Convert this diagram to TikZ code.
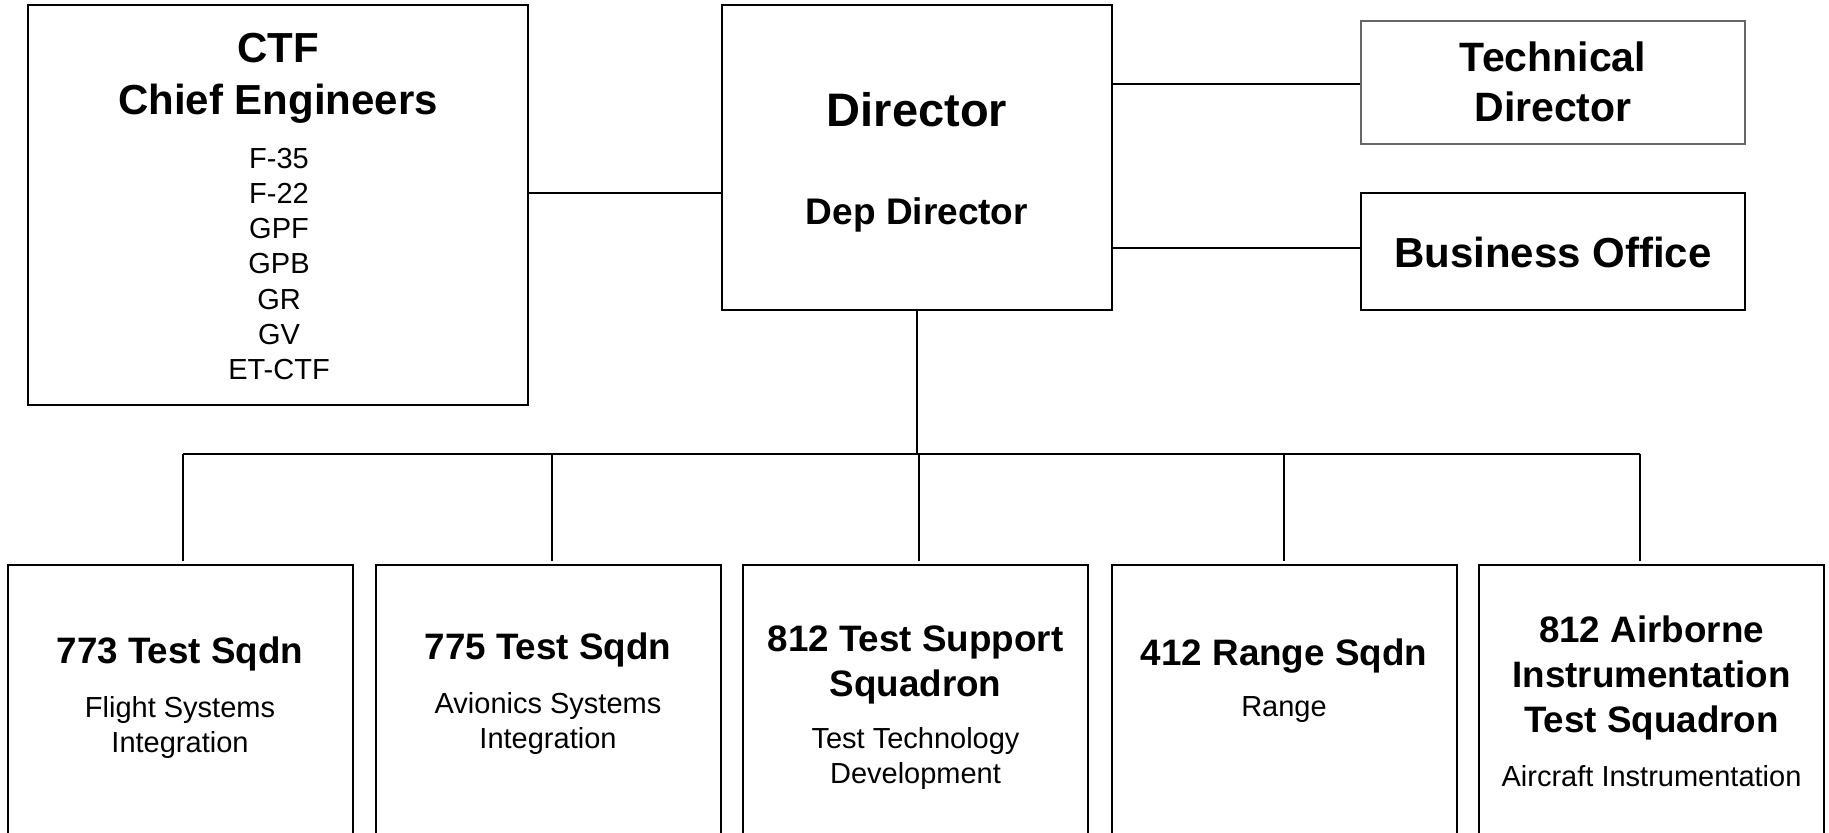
\documentclass[tikz,border=0pt]{standalone}
\usepackage{fontspec}
\setmainfont{Liberation Sans}
\usetikzlibrary{calc}

\tikzset{
	orgbox/.style={draw, line width=1pt, inner sep=0pt},
	link/.style={line width=1pt},
	drop/.style={line width=0.8pt},
	ttl/.style={font=\fontsize{18.4}{22.5}\selectfont\bfseries, align=center},
	sub/.style={font=\fontsize{14.5}{17.5}\selectfont, align=center}
}

\begin{document}
\begin{tikzpicture}[x=0.5pt, y=-0.5pt]
			%%%%% START %%%%%
			\useasboundingbox (0,0) rectangle (1829,833);
			\clip (0,0) rectangle (1829,833);
			
			% top row
			\node[orgbox, minimum width=250pt, minimum height=200pt] (ctf) at (278,205) {};
			\node[orgbox, minimum width=195pt, minimum height=152.5pt] (dir) at (917,157.5) {};
			\node[orgbox, draw=black!60, line width=0.6pt, minimum width=192pt, minimum height=61.5pt] (tech) at (1553,82.5) {};
			\node[orgbox, minimum width=192pt, minimum height=58.5pt] (boff) at (1553,251.5) {};
			
			% squadrons
			\foreach \n/\x in {1/180, 2/548, 3/915.5, 4/1284, 5/1651.5}
				\node[orgbox, minimum width=172.5pt, minimum height=167.5pt] (sq\n) at (\x,732.5) {};
			
			% texts
			\node[font=\fontsize{21}{26}\selectfont\bfseries, align=center] (ctftitle) at (278,78) {CTF\\Chief Engineers};
			\node[sub, font=\fontsize{14.5}{17.65}\selectfont] (ctflist) at (279,264) {F-35\\F-22\\GPF\\GPB\\GR\\GV\\ET-CTF};
			\node[font=\fontsize{23.5}{28}\selectfont\bfseries] (dirtext) at (917,110) {Director};
			\node[font=\fontsize{18.5}{22}\selectfont\bfseries] (deptext) at (917,215) {Dep Director};
			\node[font=\fontsize{20.5}{25}\selectfont\bfseries, align=center] (techtext) at (1553,82) {Technical\\Director};
			\node[font=\fontsize{21}{25}\selectfont\bfseries] (bofftext) at (1553,252) {Business Office};
			
			\node[ttl] (t1) at (180,654) {773 Test Sqdn};
			\node[sub] (s1) at (180,727) {Flight Systems\\Integration};
			\node[ttl] (t2) at (548,650) {775 Test Sqdn};
			\node[sub] (s2) at (548,723) {Avionics Systems\\Integration};
			\node[ttl] (t3) at (915.5,665) {812 Test Support\\Squadron};
			\node[sub] (s3) at (915.5,758.5) {Test Technology\\Development};
			\node[ttl] (t4) at (1284,656) {412 Range Sqdn};
			\node[sub] (s4) at (1284,709.5) {Range};
			\node[ttl] (t5) at (1651.5,678) {812 Airborne\\Instrumentation\\Test Squadron};
			\node[sub] (s5) at (1651.5,776.5) {Aircraft Instrumentation};
			
			% connectors
			\draw[link] ($(ctf.east)+(0,-12)$) -- ($(ctf.east -| dir.west)+(0,-12)$);
			\draw[link] ($(dir.east |- tech.west)+(0,2)$) -- ($(tech.west)+(0,2)$);
			\draw[link] ($(dir.east |- boff.west)+(0,-3)$) -- ($(boff.west)+(0,-3)$);
			
			\coordinate (rail) at (917,454);
			\draw[link] (dir.south) -- (rail);
			\draw[link] ($(sq1.north |- rail)+(3,0)$) -- ($(sq5.north |- rail)+(-11.5,0)$);
			\foreach \n/\dx in {1/3, 2/4, 3/3.5, 4/0, 5/-11.5}
				\draw[drop] ($(sq\n.north |- rail)+(\dx,0)$) -- ($(sq\n.north)+(\dx,-3)$);
			
			%%%%% END %%%%%
\end{tikzpicture}
\end{document}
